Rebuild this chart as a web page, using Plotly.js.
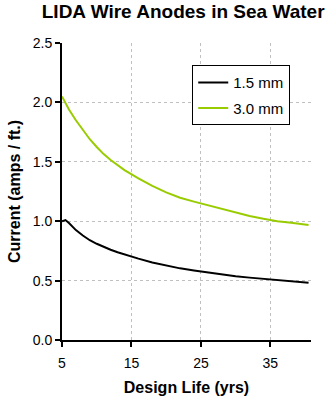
<!DOCTYPE html>
<html>
<head>
<meta charset="utf-8">
<script src="https://cdn.plot.ly/plotly-3.0.1.min.js"></script>
<style>html,body{margin:0;padding:0;background:#fff;}#chart{width:333px;height:405px;}</style>
</head>
<body>
<div id="chart"></div>
<script>
// Data
const years15 = [5, 5.5, 6, 7, 8, 9, 10, 11, 12, 13, 14, 16, 18, 20, 22, 24, 26, 28, 30, 32, 34, 36, 38, 40, 40.5];
const current15 = [1.0, 1.01, 0.985, 0.925, 0.88, 0.84, 0.81, 0.783, 0.76, 0.739, 0.72, 0.685, 0.652, 0.627, 0.603, 0.585, 0.567, 0.553, 0.537, 0.525, 0.516, 0.507, 0.496, 0.485, 0.482];
const years30 = [5, 6, 7, 8, 9, 10, 11, 12, 13, 14, 16, 18, 20, 22, 24, 26, 28, 30, 32, 34, 36, 38, 40, 40.5];
const current30 = [2.05, 1.94, 1.85, 1.765, 1.69, 1.625, 1.565, 1.515, 1.47, 1.43, 1.36, 1.297, 1.243, 1.198, 1.165, 1.135, 1.105, 1.072, 1.043, 1.02, 1.0, 0.987, 0.972, 0.968];
const seriesNames = ["1.5 mm", "3.0 mm"];
const xTicks = [5, 15, 25, 35];
const yTicks = [0, 0.5, 1.0, 1.5, 2.0, 2.5];

const font = "Liberation Sans, Arial, sans-serif";

const traces = [
  {x: years15, y: current15, name: seriesNames[0], type: "scatter", mode: "lines",
   line: {color: "#000000", width: 2}, legendgroup: "a"},
  {x: years30, y: current30, name: seriesNames[1], type: "scatter", mode: "lines",
   line: {color: "#99CC00", width: 2}, legendgroup: "b"}
];

const layout = {
  width: 333, height: 405,
  margin: {l: 62, r: 22, t: 43, b: 64.5, pad: 0},
  paper_bgcolor: "#fff", plot_bgcolor: "#fff",
  font: {family: font, color: "#000", size: 13},
  title: {text: "<b>LIDA Wire Anodes in Sea Water</b>", font: {family: font, size: 19, color: "#000"},
          x: 0.55, xanchor: "center", y: 0.972, yanchor: "middle"},
  xaxis: {
    range: [5, 40.85], tickvals: xTicks, ticktext: xTicks.map(String),
    showgrid: true, gridcolor: "#c0c0c0", griddash: "3px,3px", gridwidth: 1,
    showline: true, linecolor: "#000", linewidth: 2,
    ticks: "outside", ticklen: 5, tickwidth: 2, tickcolor: "#000",
    tickfont: {family: font, size: 14, color: "#000"}, ticklabelstandoff: 4,
    zeroline: false,
    title: {text: "<b>Design Life (yrs)</b>", font: {family: font, size: 16, color: "#000"}, standoff: 12}
  },
  yaxis: {
    range: [0, 2.5], tickvals: yTicks, ticktext: yTicks.map(v => v.toFixed(1)),
    showgrid: true, gridcolor: "#c0c0c0", griddash: "3px,3px", gridwidth: 1,
    showline: true, linecolor: "#000", linewidth: 2,
    ticks: "outside", ticklen: 5, tickwidth: 2, tickcolor: "#000",
    tickfont: {family: font, size: 14, color: "#000"},
    zeroline: false,
    title: {text: "<b>Current (amps / ft.)</b>", font: {family: font, size: 16, color: "#000"}, standoff: 8}
  },
  showlegend: true,
  legend: {
    x: 0.523, y: 0.925, xanchor: "left", yanchor: "top",
    bgcolor: "#fff", bordercolor: "#000", borderwidth: 1,
    font: {family: font, size: 15, color: "#000"},
    tracegroupgap: 3, itemwidth: 30
  }
};

Plotly.newPlot("chart", traces, layout, {displayModeBar: false, staticPlot: true});
</script>
</body>
</html>
